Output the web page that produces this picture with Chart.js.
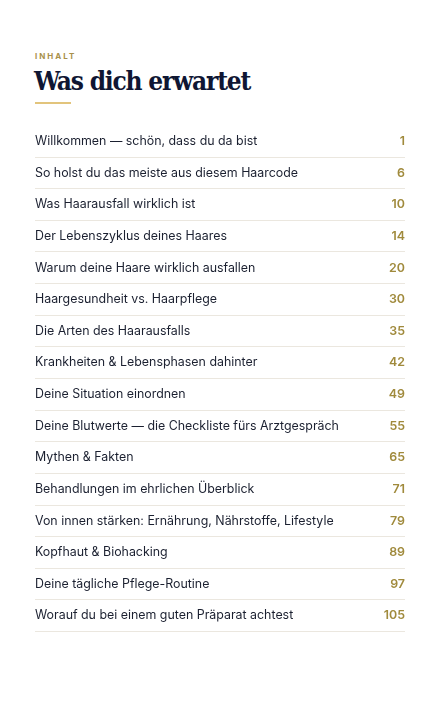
<!DOCTYPE html>
<html><head><meta charset="utf-8">
<script src="https://cdn.jsdelivr.net/npm/chart.js@4"></script>
<style>
html,body{margin:0;padding:0;background:#fff;width:440px;height:701px;overflow:hidden}
#kick{position:absolute;left:35px;top:51px;font:700 8px Inter,sans-serif;letter-spacing:2px;color:#a8904a}
#title{position:absolute;left:34px;top:66px;font:700 26px "DejaVu Serif Condensed","DejaVu Serif",serif;font-stretch:condensed;letter-spacing:-1.2px;color:#0f1633;margin:0}
#bar{position:absolute;left:35px;top:102px;width:36px;height:2px;background:#e2c47c}
#wrap{position:absolute;left:35px;top:118px;width:370px;height:521px}
</style></head><body>
<div id="kick">INHALT</div>
<h1 id="title">Was dich erwartet</h1>
<div id="bar"></div>
<div id="wrap"><canvas id="c"></canvas></div>
<script>
const chapters = ["Willkommen — schön, dass du da bist","So holst du das meiste aus diesem Haarcode","Was Haarausfall wirklich ist","Der Lebenszyklus deines Haares","Warum deine Haare wirklich ausfallen","Haargesundheit vs. Haarpflege","Die Arten des Haarausfalls","Krankheiten & Lebensphasen dahinter","Deine Situation einordnen","Deine Blutwerte — die Checkliste fürs Arztgespräch","Mythen & Fakten","Behandlungen im ehrlichen Überblick","Von innen stärken: Ernährung, Nährstoffe, Lifestyle","Kopfhaut & Biohacking","Deine tägliche Pflege-Routine","Worauf du bei einem guten Präparat achtest"];
const pages = ["1","6","10","14","20","30","35","42","49","55","65","71","79","89","97","105"];
new Chart(document.getElementById('c'), {
  type: 'bar',
  data: { labels: chapters, datasets: [{ data: chapters.map(() => 0), backgroundColor: 'transparent' }] },
  options: {
    indexAxis: 'y', responsive: true, maintainAspectRatio: false, animation: false,
    layout: { padding: 0 },
    plugins: { legend: { display: false }, tooltip: { enabled: false } },
    scales: {
      x: { display: false, min: 0, max: 1 },
      y: { type: 'category', labels: chapters, position: 'left',
           border: { display: false },
           grid: { offset: true, drawTicks: false, lineWidth: 1, color: c => c.index === 0 ? 'rgba(0,0,0,0)' : '#ebe7df' },
           ticks: { mirror: true, padding: 0, color: '#1b2030', font: { family: 'Inter', size: 12.4 } } },
      y2: { type: 'category', labels: pages, position: 'right',
           border: { display: false }, grid: { display: false, drawTicks: false },
           ticks: { mirror: true, padding: 0, color: '#a08a3c', font: { family: 'Inter', size: 12.4, weight: '600' } } }
    }
  }
});
</script>
</body></html>
